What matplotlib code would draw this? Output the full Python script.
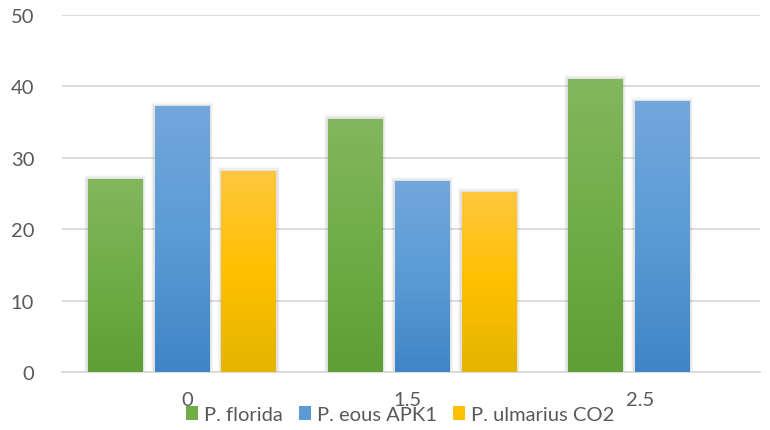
import numpy as np
import matplotlib
matplotlib.use("Agg")
import matplotlib.pyplot as plt
from matplotlib.patches import Rectangle, Patch
from matplotlib.colors import LinearSegmentedColormap

# --- Data ---
categories = ["0", "1.5", "2.5"]
series_names = ["P. florida", "P. eous APK1", "P. ulmarius CO2"]
florida = [27.0, 35.5, 41.0]
eous = [37.2, 26.7, 37.9]
ulmarius = [28.1, 25.2, None]

# top / middle / bottom gradient colours for each series
gradients = [
    ["#83b75f", "#70ad47", "#5e9e33"],
    ["#72a7dc", "#5b9bd5", "#3f85c6"],
    ["#ffc73f", "#ffc000", "#e3b400"],
]
legend_colors = ["#70ad47", "#5b9bd5", "#ffc000"]

plt.rcParams["font.family"] = ["Lato", "DejaVu Sans"]
text_color = "#595959"
grid_color = "#d9d9d9"

fig = plt.figure(figsize=(7.7, 4.31), dpi=100)
ax = fig.add_axes([0.0805, 0.1346, 0.9065, 0.8283])

x = np.arange(len(categories))
width = 0.229
step = 0.279

for i, (vals, grad) in enumerate(zip([florida, eous, ulmarius], gradients)):
    cmap = LinearSegmentedColormap.from_list(f"g{i}", grad[::-1])
    for xi, v in zip(x, vals):
        if v is None:
            continue
        left = xi + (i - 1) * step - width / 2
        # soft shadow behind the bar
        for k, a in enumerate([0.12, 0.08, 0.05]):
            d = 0.005 * (k + 1)
            ax.add_patch(Rectangle((left - d, 0), width + 2 * d, v + 0.2 * (k + 1),
                                   facecolor="#7f7f7f", alpha=a, edgecolor="none", zorder=2))
        grad_img = np.linspace(0, 1, 256).reshape(-1, 1)
        im = ax.imshow(grad_img, cmap=cmap, origin="lower", aspect="auto",
                       extent=(left, left + width, 0, v), zorder=3)
        clip = Rectangle((left, 0), width, v, facecolor="none", edgecolor="none",
                         transform=ax.transData)
        ax.add_patch(clip)
        im.set_clip_path(clip)

ax.set_xlim(-0.5, 2.408)
ax.set_ylim(0, 50)
ax.set_yticks(np.arange(0, 51, 10))
ax.yaxis.grid(True, color=grid_color, linewidth=1.3, zorder=0)
ax.set_axisbelow(True)

# category labels sit slightly off the group centres
ax.set_xticks([0.02, 0.94, 1.91])
ax.set_xticklabels(categories)
ax.tick_params(axis="both", length=0, colors=text_color, labelsize=14.5)
ax.tick_params(axis="y", pad=20)
ax.tick_params(axis="x", pad=14)

for side in ["top", "right", "left"]:
    ax.spines[side].set_visible(False)
ax.spines["bottom"].set_color(grid_color)
ax.spines["bottom"].set_linewidth(1.3)

handles = [Patch(facecolor=c, edgecolor="none") for c in legend_colors]
fig.legend(handles, series_names, loc="center", bbox_to_anchor=(0.52, 0.035), ncol=3,
           frameon=False, fontsize=14.5, handlelength=0.6, handleheight=0.7,
           handletextpad=0.3, columnspacing=0.8, labelcolor=text_color)

fig.savefig("out.png", dpi=100)
